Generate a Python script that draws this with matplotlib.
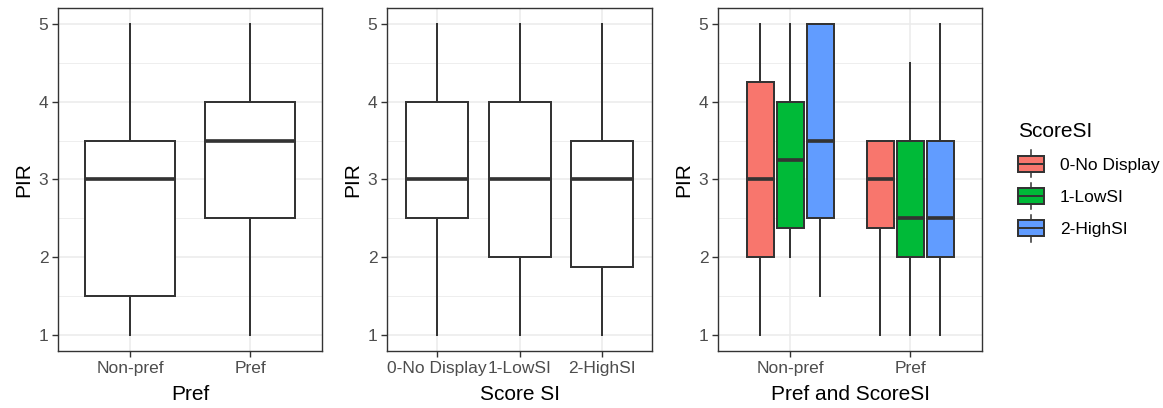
import numpy as np
import matplotlib
matplotlib.use("Agg")
import matplotlib.pyplot as plt
from matplotlib.patches import Rectangle, Patch
from matplotlib.lines import Line2D
from matplotlib.legend_handler import HandlerBase

plt.rcParams['font.family'] = ['Liberation Sans', 'DejaVu Sans']

# five-number summaries: (whislo, q1, med, q3, whishi)
pref_cats = ["Non-pref", "Pref"]
pref_stats = [(1, 1.5, 3, 3.5, 5), (1, 2.5, 3.5, 4, 5)]

score_cats = ["0-No Display", "1-LowSI", "2-HighSI"]
score_stats = [(1, 2.5, 3, 4, 5), (1, 2, 3, 4, 5), (1, 1.875, 3, 3.5, 5)]

# Pref x ScoreSI
both_nonpref = [(1, 2, 3, 4.25, 5), (2, 2.375, 3.25, 4, 5), (1.5, 2.5, 3.5, 5, 5)]
both_pref = [(1, 2.375, 3, 3.5, 3.5), (1, 2, 2.5, 3.5, 4.5), (1, 2, 2.5, 3.5, 5)]

fill_cols = ["#F8766D", "#00BA38", "#619CFF"]
EDGE = "#333333"
LW = 1.1


def to_stats(rows):
    return [dict(whislo=r[0], q1=r[1], med=r[2], q3=r[3], whishi=r[4], fliers=[]) for r in rows]


def style_axes(ax, ncat, labels, xlabel):
    ax.set_xlim(0.4, ncat + 0.6)
    ax.set_ylim(0.8, 5.2)
    ax.set_yticks([1, 2, 3, 4, 5])
    ax.set_yticks([1.5, 2.5, 3.5, 4.5], minor=True)
    ax.set_xticks(np.arange(1, ncat + 1))
    ax.set_xticklabels(labels)
    ax.grid(True, which='major', color='#EBEBEB', lw=1.1, zorder=0)
    ax.grid(True, which='minor', axis='y', color='#EBEBEB', lw=0.6, zorder=0)
    ax.set_axisbelow(True)
    ax.tick_params(axis='both', which='major', length=4, width=1, color=EDGE,
                   labelsize=12.5, labelcolor='#4D4D4D', pad=3)
    ax.tick_params(axis='both', which='minor', length=0)
    for s in ax.spines.values():
        s.set_color(EDGE)
        s.set_linewidth(1.0)
    ax.set_xlabel(xlabel, fontsize=15, labelpad=7)
    ax.set_ylabel("PIR", fontsize=15, labelpad=4)


def draw_box(ax, stats, positions, width, colors):
    for st, p, c in zip(to_stats(stats), positions, colors):
        ax.bxp([st], positions=[p], widths=width, patch_artist=True, showfliers=False,
               showcaps=False, manage_ticks=False,
               boxprops=dict(facecolor=c, edgecolor=EDGE, lw=LW * 1.3),
               whiskerprops=dict(color=EDGE, lw=LW * 1.3),
               medianprops=dict(color=EDGE, lw=LW * 2.4, solid_capstyle='butt'))


fig = plt.figure(figsize=(11.63, 4.08), dpi=100)
ax1 = fig.add_axes([0.0499, 0.1397, 0.2270, 0.8407])
ax2 = fig.add_axes([0.3328, 0.1397, 0.2279, 0.8407])
ax3 = fig.add_axes([0.6174, 0.1397, 0.2270, 0.8407])

draw_box(ax1, pref_stats, [1, 2], 0.75, ["white"] * 2)
style_axes(ax1, 2, pref_cats, "Pref")

draw_box(ax2, score_stats, [1, 2, 3], 0.75, ["white"] * 3)
style_axes(ax2, 3, score_cats, "Score SI")

offs = np.array([-0.25, 0, 0.25])
draw_box(ax3, both_nonpref, 1 + offs, 0.225, fill_cols)
draw_box(ax3, both_pref, 2 + offs, 0.225, fill_cols)
style_axes(ax3, 2, pref_cats, "Pref and ScoreSI")


class BoxKeyHandler(HandlerBase):
    def create_artists(self, legend, orig_handle, xdescent, ydescent, width, height, fontsize, trans):
        x0, y0 = -xdescent, -ydescent
        bh = height * 0.85
        by = y0 + (height - bh) / 2
        rect = Rectangle((x0, by), width, bh, facecolor=orig_handle.get_facecolor(),
                         edgecolor=EDGE, lw=LW * 1.3, transform=trans)
        mid = y0 + height / 2
        med = Line2D([x0, x0 + width], [mid, mid], color=EDGE, lw=LW * 1.3, transform=trans)
        cx = x0 + width / 2
        w1 = Line2D([cx, cx], [by + bh, by + bh + height * 0.3], color=EDGE, lw=LW, transform=trans)
        w2 = Line2D([cx, cx], [by, by - height * 0.3], color=EDGE, lw=LW, transform=trans)
        return [rect, med, w1, w2]


handles = [Patch(facecolor=c) for c in fill_cols]
leg = fig.legend(handles, score_cats, handler_map={Patch: BoxKeyHandler()},
                 title="ScoreSI", loc='upper left', bbox_to_anchor=(0.862, 0.74),
                 frameon=False, fontsize=12.5, title_fontsize=15,
                 handlelength=1.5, handleheight=1.25, handletextpad=0.9, labelspacing=0.8)
leg._legend_box.align = "left"

fig.savefig("out.png", dpi=100)
